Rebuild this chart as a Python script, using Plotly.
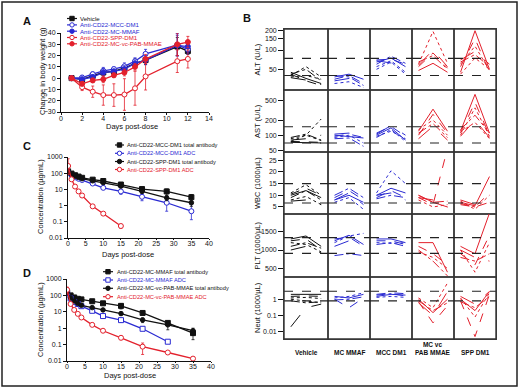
import plotly.graph_objects as go

W, H = 520, 388
def px(x): return x / W
def py(y): return 1 - y / H

FONT = "Liberation Sans, Arial, sans-serif"
BLACK = "#111111"
BLUE = "#2a2ad2"
RED = "#e3202c"

# ---------------- Panel A: body weight change ----------------
A_DAYS = [1, 2, 3, 4, 5, 6, 7, 8, 11, 12]
A_VEHICLE = [0, -1, 2, 5, 6, 9, 13, 16, 28, 24]
A_VEHICLE_ERR = [1, 2, 2, 3, 3, 3, 4, 4, 8, 3]
A_MCC_DM1 = [0, 0.5, 3.5, 6.5, 8, 10.5, 15, 21.5, 29.5, 25.5]
A_MCC_DM1_ERR = [1, 2, 2, 3, 2, 3, 3, 4, 10, 4]
A_MC_MMAF = [0, -1, 1, 5, 6, 8, 13, 16, 29, 28]
A_MC_MMAF_ERR = [1, 2, 2, 3, 2, 3, 3, 4, 9, 5]
A_SPP_DM1 = [0, -8, -12, -15, -15, -14.5, -9, 1.5, 15, 17]
A_SPP_DM1_ERR = [1, 3, 5, 9, 10, 14, 15, 12, 10, 8]
A_MMAE = [0, -5, -2, -1, 2.5, 5, 10, 17, 30, 32]
A_MMAE_ERR = [1, 2, 2, 3, 2, 3, 3, 4, 10, 5]
A_NAMES = ["Vehicle", "Anti-CD22-MCC-DM1", "Anti-CD22-MC-MMAF",
           "Anti-CD22-SPP-DM1", "Anti-CD22-MC-vc-PAB-MMAE"]

# ---------------- Panel C: PK SPP/MCC DM1 ----------------
C_DAYS = [0.04, 1, 2, 3, 4, 7, 10, 15, 21, 28, 35]
C_MCC_TOTAL = [130, 95, 75, 62, 52, 40, 33, 20, 10.5, 7.5, 3.3]
C_MCC_TOTAL_ERR = [20, 10, 8, 6, 5, 5, 5, 4, 2.5, 3, 1.5]
C_MCC_ADC = [110, 75, 55, 45, 38, 23, 12.5, 7.5, 3.5, 1.5, 0.45]
C_MCC_ADC_ERR = [15, 8, 6, 5, 4, 3, 2, 2.5, 1.5, 1.2, 0.8]
C_SPP_TOTAL = [120, 85, 65, 55, 46, 34, 26, 16, 7.5, 3.0, 1.5]
C_SPP_TOTAL_ERR = [15, 8, 6, 5, 4, 4, 3, 3, 1.5, 1.0, 0.6]
C_SPP_ADC_DAYS = [0.04, 1, 2, 3, 4, 7, 10, 15]
C_SPP_ADC = [280, 42, 15, 7.5, 4.2, 0.9, 0.32, 0.055]
C_SPP_ADC_ERR = [500, 8, 3, 1.5, 0.8, 0.15, 0.06, 0.015]
C_NAMES = ["Anti-CD22-MCC-DM1 total antibody", "Anti-CD22-MCC-DM1 ADC",
           "Anti-CD22-SPP-DM1 total antibody", "Anti-CD22-SPP-DM1 ADC"]

# ---------------- Panel D: PK MMAF/MMAE ----------------
D_DAYS = [0.04, 1, 2, 3, 4, 7, 10, 15, 21, 28, 35]
D_MMAF_TOTAL = [150, 100, 75, 62, 57, 44, 33, 23, 8.5, 2.1, 0.5]
D_MMAF_TOTAL_ERR = [30, 10, 8, 6, 5, 5, 5, 8, 1.5, 0.5, 0.3]
D_MMAF_ADC_DAYS = [0.04, 1, 2, 3, 4, 7, 10, 15, 21, 28]
D_MMAF_ADC = [140, 65, 40, 30, 22, 11.5, 5.5, 3.1, 0.92, 0.15]
D_MMAF_ADC_ERR = [20, 8, 5, 4, 3, 1.5, 1.5, 0.8, 0.15, 0.02]
D_MMAE_TOTAL = [150, 70, 45, 32, 25, 18, 13, 7.8, 3.2, 1.6, 0.7]
D_MMAE_TOTAL_ERR = [30, 8, 5, 4, 3, 2, 2, 1.5, 1.0, 0.8, 0.3]
D_MMAE_ADC = [220, 30, 13, 7.5, 4.5, 1.6, 0.7, 0.26, 0.075, 0.033, 0.014]
D_MMAE_ADC_ERR = [100, 5, 2, 1, 0.6, 0.2, 0.1, 0.06, 0.05, 0.005, 0.002]
D_NAMES = ["Anti-CD22-MC-MMAF total antibody", "Anti-CD22-MC-MMAF ADC",
           "Anti-CD22-MC-vc-PAB-MMAE total antibody", "Anti-CD22-MC-vc-PAB-MMAE ADC"]

# ---------------- Panel B: individual clinical pathology ----------------
B_TIMEPOINTS = [0, 1, 2]
B_COLUMNS = ["Vehicle", "MC MMAF", "MCC DM1", "MC vc<br>PAB MMAE", "SPP DM1"]
B_ROW_TITLES = ["ALT (U/L)", "AST (U/L)", "WBC (1000/\u00b5L)", "PLT (1000/\u00b5L)", "Neut (1000/\u00b5L)"]

ALT = [
    [[45, 36, 30], [42, 33, 28], [40, 55, 38], [42, 50, 33], [37, 34, 29], [38, 40, 35]],
    [[38, 42, 35], [35, 40, 30], [30, 32, 26], [40, 38, 28], [33, 36, 33]],
    [[65, 75, 55], [70, 72, 60], [55, 68, 45], [60, 80, 62], [68, 62, 58], [50, 65, 42]],
    [[48, 62, 45], [55, 90, 52], [60, 195, 62], [65, 82, 50], [58, 100, 55]],
    [[45, 200, 50], [55, 150, 45], [60, 115, 48], [65, 85, 55], [70, 95, 60], [42, 75, 50]],
]
AST = [
    [[72, 71, 70], [75, 73, 72], [85, 100, 210], [90, 105, 80], [80, 85, 100], [75, 100, 78]],
    [[100, 95, 88], [95, 105, 90], [90, 100, 70], [85, 88, 60], [105, 110, 95]],
    [[100, 140, 80], [110, 150, 95], [95, 120, 85], [90, 130, 75], [105, 155, 100]],
    [[120, 330, 120], [100, 260, 110], [130, 200, 100], [110, 170, 90], [85, 150, 80]],
    [[120, 650, 110], [110, 450, 100], [100, 350, 95], [130, 250, 110], [95, 200, 90], [115, 180, 85]],
]
WBC = [
    [[10, 12, 9], [10.5, 13, 10], [11, 14.5, 10], [9, 12, 8], [7.5, 8, 6], [8, 9.5, 6]],
    [[8, 10, 7], [9, 12, 8], [7, 9, 4], [10, 13, 9], [8, 11, 6]],
    [[10, 13, 11], [9, 12, 9], [11, 20.5, 15], [8.5, 10, 9], [10, 11, 8]],
    [[10, 7, 5], [9, 6, 30], [8, 5, 6], [10, 7, 7.5], [9, 8, 5]],
    [[7, 5.5, 18], [6, 5, 11], [7.5, 4, 10], [6.5, 5, 7], [8, 6, 5]],
]
PLT = [
    [[1300, 1380, 1100], [1250, 1300, 1000], [1200, 1150, 950], [1100, 1200, 1050], [1000, 1100, 920]],
    [[1250, 1400, 1150], [1300, 1350, 1100], [1200, 1380, 1450], [850, 900, 850], [1100, 1250, 1200]],
    [[1300, 1300, 1200], [1250, 1250, 1150], [1200, 1180, 1200], [1150, 1200, 1100]],
    [[1200, 1200, 400], [1100, 900, 600], [950, 800, 500], [1000, 700, 300]],
    [[1100, 900, 2000], [900, 600, 1400], [1000, 400, 1200], [800, 700, 900], [1000, 800, 700]],
]
NEUT = [
    [[2, 2, 2], [1.5, 1.6, 1.5], [1.2, 1.3, 1.1], [0.8, 0.6, 0.7], [0.02, 0.3, 0.5], [1, 0.8, 0.6]],
    [[1.5, 1.2, 2], [1, 0.3, 1.2], [1.2, 1.5, 2.5], [0.9, 1, 1.4]],
    [[1.5, 2, 1.8], [2, 2.5, 2.2], [1.3, 1.5, 1.3], [1.8, 2.2, 1.6]],
    [[1, 0.15, 1], [0.7, 0.035, 0.4], [1.2, 0.3, 10], [0.8, 0.2, 0.6], [0.6, 0.1, 3]],
    [[1, 0.2, 3], [0.8, 0.005, 2], [1.2, 0.08, 2.5], [0.7, 0.3, 1.5], [1.5, 0.5, 3]],
]
ALT_REF = [40, 74]
AST_REF = [70, 147]
WBC_REF = [6.7, 15]
PLT_REF = [910, 1336]
NEUT_REF = [0.79, 3.1]

ALT_TICKS = [50, 100, 150, 200]
AST_TICKS = [50, 100, 200, 500]
WBC_TICKS = [5, 10, 15, 20, 25]
PLT_TICKS = [500, 1000, 1500]
NEUT_TICKS = [0.01, 0.1, 1]

# ---------------- build figure ----------------
fig = go.Figure()
layout = dict(template="none", width=W, height=H, margin=dict(l=0, r=0, t=0, b=0, pad=0),
              autosize=False,
              paper_bgcolor="white", plot_bgcolor="rgba(0,0,0,0)", showlegend=False,
              font=dict(family=FONT, size=7, color=BLACK))
shapes, annotations = [], []

def std_axis(dom, rng, typ="linear", **kw):
    d = dict(domain=dom, range=rng, type=typ, showgrid=False, zeroline=False,
             automargin=False, showline=True, linecolor=BLACK, linewidth=1, ticks="outside",
             ticklen=3, tickwidth=1, tickcolor=BLACK, tickfont=dict(size=7, family=FONT, color=BLACK))
    d.update(kw)
    return d

# Panel A
layout["xaxis"] = std_axis([px(61), px(209)], [0, 14], dtick=2, anchor="y", ticklen=2,
                           ticklabelstandoff=-2)
layout["yaxis"] = std_axis([py(112), py(33)], [-30, 40], dtick=10, anchor="x")
a_series = [(A_VEHICLE, A_VEHICLE_ERR, BLACK, "square", True),
            (A_MCC_DM1, A_MCC_DM1_ERR, BLUE, "circle", False),
            (A_MC_MMAF, A_MC_MMAF_ERR, BLUE, "circle", True),
            (A_SPP_DM1, A_SPP_DM1_ERR, RED, "circle", False),
            (A_MMAE, A_MMAE_ERR, RED, "circle", True)]
for vals, err, col, sym, filled in a_series:
    fig.add_trace(go.Scatter(
        x=A_DAYS, y=vals, mode="lines+markers", xaxis="x", yaxis="y",
        line=dict(color=col, width=1.3),
        marker=dict(symbol=sym, size=5, color=col if filled else "white",
                    line=dict(color=col, width=1)),
        error_y=dict(type="data", array=err, color=col, thickness=0.8, width=1.5)))

# Panel C and D (log)
def log_axis_y(dom, anchor):
    return std_axis(dom, [-2, 3], "log", anchor=anchor,
                    tickvals=[0.01, 0.1, 1, 10, 100, 1000],
                    ticktext=["0.01", "0.1", "1", "10", "100", "1000"])

layout["xaxis2"] = std_axis([px(68), px(209)], [0, 40], dtick=5, anchor="y2", ticklen=1,
                            ticklabelstandoff=-2)
layout["yaxis2"] = log_axis_y([py(238), py(157)], "x2")
layout["xaxis3"] = std_axis([px(67), px(211)], [0, 40], dtick=5, anchor="y3", ticklen=1,
                            ticklabelstandoff=-2)
layout["yaxis3"] = log_axis_y([py(361), py(279)], "x3")

def pk_trace(xs, ys, err, col, sym, filled, ax, size=5):
    minus = [min(e, v * 0.7) for e, v in zip(err, ys)]
    return go.Scatter(
        x=xs, y=ys, mode="lines+markers", xaxis="x" + ax, yaxis="y" + ax,
        line=dict(color=col, width=1.3),
        marker=dict(symbol=sym, size=size, color=col if filled else "white",
                    line=dict(color=col, width=1)),
        error_y=dict(type="data", symmetric=False, array=err, arrayminus=minus,
                     color=col, thickness=0.8, width=1.5))

c_series = [(C_DAYS, C_MCC_TOTAL, C_MCC_TOTAL_ERR, BLACK, "square", True, 5),
            (C_DAYS, C_MCC_ADC, C_MCC_ADC_ERR, BLUE, "circle", False, 5),
            (C_DAYS, C_SPP_TOTAL, C_SPP_TOTAL_ERR, BLACK, "circle", True, 4.5),
            (C_SPP_ADC_DAYS, C_SPP_ADC, C_SPP_ADC_ERR, RED, "circle", False, 5)]
for xs, ys, err, col, sym, filled, sz in c_series:
    fig.add_trace(pk_trace(xs, ys, err, col, sym, filled, "2", sz))

d_series = [(D_DAYS, D_MMAF_TOTAL, D_MMAF_TOTAL_ERR, BLACK, "square", True, 5),
            (D_MMAF_ADC_DAYS, D_MMAF_ADC, D_MMAF_ADC_ERR, BLUE, "square", False, 5),
            (D_DAYS, D_MMAE_TOTAL, D_MMAE_TOTAL_ERR, BLACK, "circle", True, 4.5),
            (D_DAYS, D_MMAE_ADC, D_MMAE_ADC_ERR, RED, "circle", False, 5)]
for xs, ys, err, col, sym, filled, sz in d_series:
    fig.add_trace(pk_trace(xs, ys, err, col, sym, filled, "3", sz))

# Panel B grid
COL_EDGES = [284, 328, 370, 412, 454, 496]
ROW_EDGES = [29, 90, 152, 214, 277, 339]
B_DATA = [ALT, AST, WBC, PLT, NEUT]
B_REFS = [ALT_REF, AST_REF, WBC_REF, PLT_REF, NEUT_REF]
B_TICKS = [ALT_TICKS, AST_TICKS, WBC_TICKS, PLT_TICKS, NEUT_TICKS]
B_TYPES = ["log", "log", "linear", "linear", "log"]
B_RANGES = [[1.376, 2.328], [1.665, 2.9], [2.0, 28.5], [270, 1975], [-2.45, 1.37]]
COL_COLORS = [BLACK, BLUE, BLUE, RED, RED]
DASHES = ["solid", "dash", "dot", "dashdot", "longdash", "dot"]
GRID = "#333333"

def note(text, x, y, size, angle=0, color=BLACK, xanchor="center", yanchor="middle"):
    annotations.append(dict(text=text, x=px(x), y=py(y), xref="paper", yref="paper",
                            xanchor=xanchor, yanchor=yanchor, textangle=angle,
                            showarrow=False, font=dict(size=size, family=FONT, color=color)))

for r in range(5):
    for c in range(5):
        n = 4 + r * 5 + c
        xa, ya = "xaxis%d" % n, "yaxis%d" % n
        layout[xa] = dict(domain=[px(COL_EDGES[c]), px(COL_EDGES[c + 1])],
                          range=[-0.45, 2.45], anchor="y%d" % n, showgrid=False,
                          zeroline=False, showticklabels=False, ticks="", automargin=False,
                          showline=True, mirror=True, linecolor=GRID, linewidth=0.9)
        yd = dict(domain=[py(ROW_EDGES[r + 1]), py(ROW_EDGES[r])], type=B_TYPES[r],
                  range=B_RANGES[r], anchor="x%d" % n, showgrid=False, zeroline=False,
                  automargin=False, showline=True, mirror=True, linecolor=GRID, linewidth=0.9)
        if c == 0:
            yd.update(tickvals=B_TICKS[r], ticktext=[("%g" % v) for v in B_TICKS[r]],
                      ticks="outside", ticklen=5, tickwidth=1, tickcolor=BLACK,
                      tickfont=dict(size=7, family=FONT, color=BLACK))
        else:
            yd.update(showticklabels=False, ticks="")
        layout[ya] = yd
        for i, vals in enumerate(B_DATA[r][c]):
            fig.add_trace(go.Scatter(
                x=B_TIMEPOINTS, y=vals, mode="lines", xaxis="x%d" % n, yaxis="y%d" % n,
                line=dict(color=COL_COLORS[c], width=1.0, dash=DASHES[i % len(DASHES)])))
        for ref in B_REFS[r]:
            shapes.append(dict(type="line", xref="x%d domain" % n, yref="y%d" % n,
                               x0=0, x1=1, y0=ref, y1=ref,
                               line=dict(color="#222222", width=1.1, dash="dash")))
    note(B_ROW_TITLES[r], 257, (ROW_EDGES[r] + ROW_EDGES[r + 1]) / 2, 7.5, angle=-90)

shapes.append(dict(type="rect", xref="paper", yref="paper", x0=px(COL_EDGES[0]), x1=px(COL_EDGES[-1]),
                   y0=py(ROW_EDGES[-1]), y1=py(ROW_EDGES[0]), line=dict(color=GRID, width=1.4)))

for c, lab in enumerate(B_COLUMNS):
    note("<b>%s</b>" % lab, (COL_EDGES[c] + COL_EDGES[c + 1]) / 2, 358, 6.5, yanchor="bottom")

# custom legends
def legend(entries, kx0, kx1, tx, ys, fsize):
    for (name, col, sym, filled), y in zip(entries, ys):
        shapes.append(dict(type="line", xref="paper", yref="paper", x0=px(kx0), x1=px(kx1),
                           y0=py(y), y1=py(y), line=dict(color=col, width=1.2)))
        cx, s = (kx0 + kx1) / 2, 2.2
        shapes.append(dict(type="rect" if sym == "square" else "circle", xref="paper", yref="paper",
                           x0=px(cx - s), x1=px(cx + s), y0=py(y - s), y1=py(y + s),
                           fillcolor=col if filled else "white", line=dict(color=col, width=1)))
        note(name, tx, y, fsize, color=col, xanchor="left")

legend([(A_NAMES[0], BLACK, "square", True), (A_NAMES[1], BLUE, "circle", False),
        (A_NAMES[2], BLUE, "circle", True), (A_NAMES[3], RED, "circle", False),
        (A_NAMES[4], RED, "circle", True)],
       67, 77, 77.5, [18.5, 24.9, 31.2, 37.5, 43.8], 6.1)
legend([(C_NAMES[0], BLACK, "square", True), (C_NAMES[1], BLUE, "circle", False),
        (C_NAMES[2], BLACK, "circle", True), (C_NAMES[3], RED, "circle", False)],
       115, 124, 124.5, [145, 153.3, 161.5, 169.5], 5.7)
legend([(D_NAMES[0], BLACK, "square", True), (D_NAMES[1], BLUE, "square", False),
        (D_NAMES[2], BLACK, "circle", True), (D_NAMES[3], RED, "circle", False)],
       103, 113, 114.5, [271.7, 280, 288.3, 296.7], 5.7)

# axis titles
note("Change in body weight (g)", 42, 71, 7.5, angle=-90)
note("Days post-dose", 132, 127, 7.5)
note("Concentration (\u00b5g/mL)", 40, 197, 7.5, angle=-90)
note("Days post-dose", 128, 254, 7.5)
note("Concentration (\u00b5g/mL)", 40, 320, 7.5, angle=-90)
note("Days post-dose", 130, 375, 7.5)

for letter, x, y in [("A", 27, 21), ("B", 247, 18), ("C", 27, 146), ("D", 27, 273)]:
    note("<b>%s</b>" % letter, x, y, 11)

# outer frame
shapes.append(dict(type="rect", xref="paper", yref="paper", x0=px(2), x1=px(517),
                   y0=py(386), y1=py(2), line=dict(color="#222222", width=1.5)))

layout["shapes"] = shapes
layout["annotations"] = annotations
fig.update_layout(**layout)
fig.write_html("out.html", config={"displayModeBar": False, "staticPlot": True},
               post_script="document.body.style.margin='0';document.body.style.overflow='hidden';")
